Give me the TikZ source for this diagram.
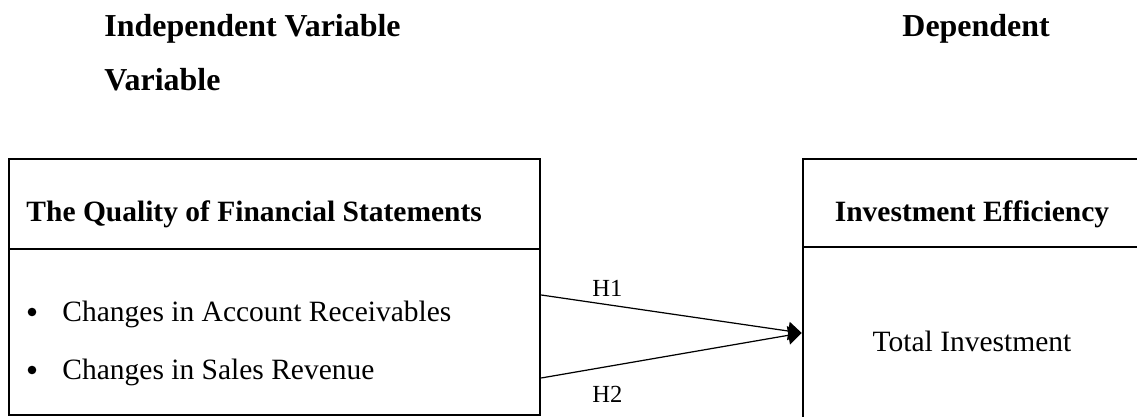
\documentclass[tikz,border=0pt]{standalone}
\usepackage{fontspec}
\setmainfont{Liberation Serif}
\usetikzlibrary{arrows.meta,positioning}

\begin{document}
\begin{tikzpicture}[
  x=0.407pt, y=-0.407pt,
  frame/.style={draw, line width=1pt, rectangle, inner sep=0pt, minimum width=#1},
  head/.style={font=\fontsize{13}{15}\selectfont\bfseries, anchor=base west, inner sep=0pt},
  title/.style={font=\fontsize{12}{14}\selectfont\bfseries, anchor=base, inner sep=0pt},
  item/.style={font=\fontsize{12}{14}\selectfont, anchor=base west, inner sep=0pt},
  dot/.style={circle, fill, inner sep=0pt, minimum size=3.5pt},
  hyp/.style={font=\fontsize{10}{12}\selectfont, anchor=base west, inner sep=0pt},
  arrow/.style={-{Triangle[length=5.5pt, width=7.5pt]}, line width=0.5pt},
]
\def\headh{36.6pt}     % header height
\useasboundingbox (0,0) rectangle (1137,417);
\clip (0,0) rectangle (1137,417);

% headings
\node[head] (indep) at (104,37) {Independent Variable};
\node[head] (indep2) at (104,91) {Variable};
\node[head] (dep) at (902,37) {Dependent};

% left box
\node[frame=216.1pt, minimum height=\headh] (qfs) at (274.5,204) {};
\node[frame=216.1pt, minimum height=67.6pt] (qfsbody) at (274.5,332) {};
\node[title, anchor=base west] (qfstext) at (26,222) {The Quality of Financial Statements};
\node[item] (ar) at (62,322) {Changes in Account Receivables};
\node[item] (sr) at (62,380) {Changes in Sales Revenue};
\node[dot] (ardot) at (32,312) {};
\node[dot] (srdot) at (32,370) {};

% right box
\node[frame=137.6pt, minimum height=35.8pt] (ie) at (972,203) {};
\node[frame=137.6pt, minimum height=72.4pt] (iebody) at (972,336) {};
\node[title] (ietext) at (972,222) {Investment Efficiency};
\node[item, anchor=base] (ti) at (972,352) {Total Investment};

% hypotheses
\coordinate (h1from) at (qfsbody.east |- 0,295);
\coordinate (h2from) at (qfsbody.east |- 0,378);
\coordinate (hto) at (iebody.west |- 0,333);
\draw[arrow] (h1from) -- (hto);
\draw[arrow] (h2from) -- (hto);
\node[hyp] (h1) at (592,297) {H1};
\node[hyp] (h2) at (592,403) {H2};
\end{tikzpicture}
\end{document}
